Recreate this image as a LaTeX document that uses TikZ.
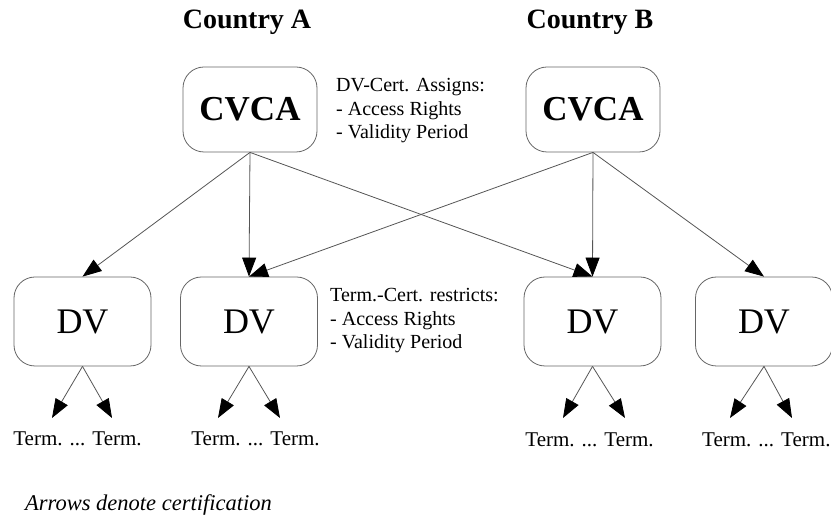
\documentclass[tikz,border=0pt]{standalone}
\usepackage{fontspec}
\setmainfont{Liberation Serif}
\usetikzlibrary{arrows.meta}
\definecolor{edgegray}{HTML}{555555}
\definecolor{boxgray}{HTML}{666666}
\begin{document}
\begin{tikzpicture}[x=1pt,y=-1pt,
  cvcabox/.style={draw=boxgray, line width=0.8pt, rounded corners=21pt,
    minimum width=134pt, minimum height=85pt, inner sep=0pt,
    font=\fontsize{35}{40}\selectfont\bfseries},
  dvbox/.style={draw=boxgray, line width=0.8pt, rounded corners=21pt,
    minimum width=137pt, minimum height=89pt, inner sep=0pt,
    font=\fontsize{36}{40}\selectfont},
  country/.style={font=\fontsize{28}{32}\selectfont\bfseries, inner sep=0pt},
  termlabel/.style={font=\fontsize{21}{24}\selectfont, inner sep=0pt},
  note/.style={font=\fontsize{20}{23.5}\selectfont, align=left, inner sep=0pt, anchor=north west},
  cert/.style={draw=edgegray, line width=0.8pt,
    -{Triangle[length=19pt,width=14pt,color=black]}},
]
\useasboundingbox (0,0) rectangle (831,518);

% column headings
\node[country] (cA) at (247,22) {Country A};
\node[country] (cB) at (590,22) {Country B};

% root certificate authorities
\node[cvcabox] (cvcaA) at (250,109.5) {CVCA};
\node[cvcabox] (cvcaB) at (593,109.5) {CVCA};

% document verifiers
\node[dvbox] (dv1) at (82.5,321.5) {DV};
\node[dvbox] (dv2) at (249,321.5) {DV};
\node[dvbox] (dv3) at (592.5,321.5) {DV};
\node[dvbox] (dv4) at (764,321.5) {DV};

% annotations
\node[note] (noteDV) at (336,78.5) {DV-Cert. Assigns:\\- Access Rights\\- Validity Period};
\node[note] (noteT) at (330,288.5) {Term.-Cert. restricts:\\- Access Rights\\- Validity Period};

% terminal labels
\node[termlabel, anchor=base] (t1) at (77.5,446) {Term. ... Term.};
\node[termlabel, anchor=base] (t2) at (255.5,446) {Term. ... Term.};
\node[termlabel, anchor=base] (t3) at (589.5,447) {Term. ... Term.};
\node[termlabel, anchor=base west] (t4) at (702,447) {Term. ... Term.};

% tips of the terminal arrows
\coordinate (t1a) at (52,418);  \coordinate (t1b) at (112,418);
\coordinate (t2a) at (218,418); \coordinate (t2b) at (280,418);
\coordinate (t3a) at (563,418); \coordinate (t3b) at (625,418);
\coordinate (t4a) at (730,418); \coordinate (t4b) at (792,418);

% cross certification from the CVCAs
\draw[cert] (cvcaA.south) -- (dv1.north);
\draw[cert] (cvcaA.south) -- (dv2.north);
\draw[cert] (cvcaA.south) -- (dv3.north);
\draw[cert] (cvcaB.south) -- (dv2.north);
\draw[cert] (cvcaB.south) -- (dv3.north);
\draw[cert] (cvcaB.south) -- (dv4.north);

% terminal certification
\foreach \d/\a/\b in {dv1/t1a/t1b, dv2/t2a/t2b, dv3/t3a/t3b, dv4/t4a/t4b}{
  \draw[cert] (\d.south) -- (\a);
  \draw[cert] (\d.south) -- (\b);
}

% legend
\node[font=\fontsize{22.5}{26}\selectfont\itshape, inner sep=0pt, anchor=base west] (legend) at (25,511) {Arrows denote certification};
\end{tikzpicture}
\end{document}
